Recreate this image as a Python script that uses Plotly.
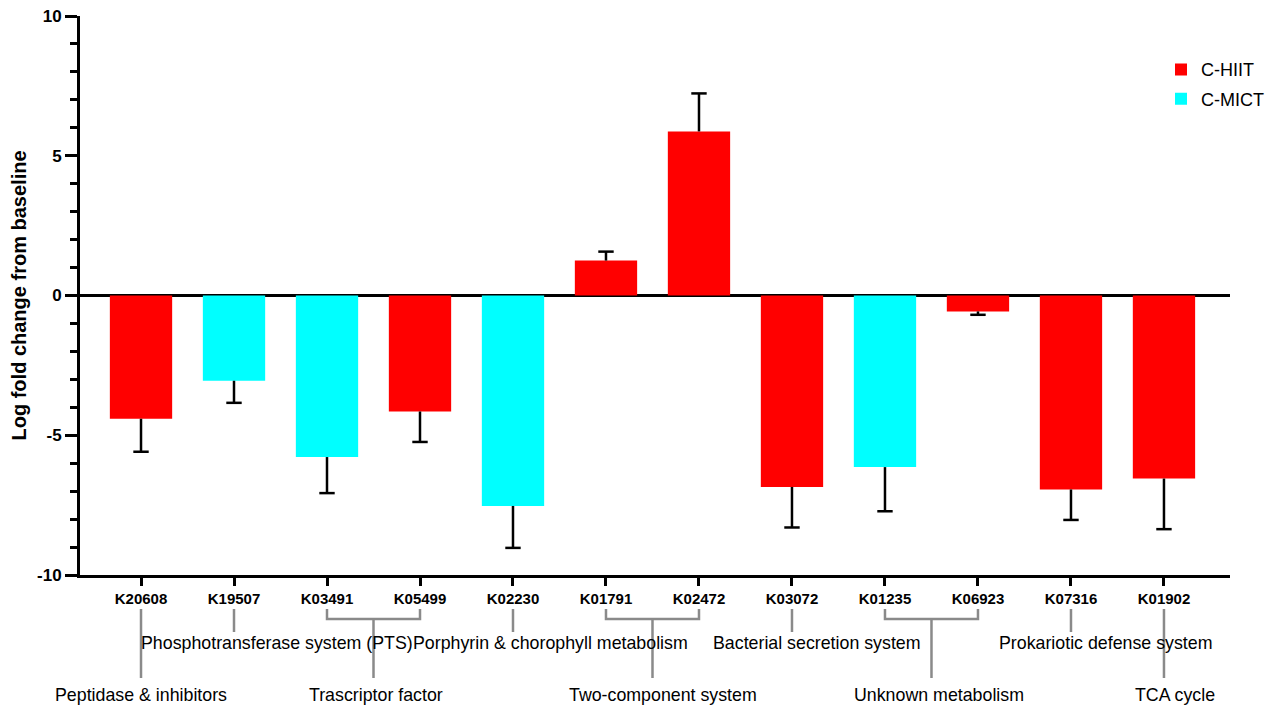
import plotly.graph_objects as go

# ---------------- data ----------------
categories = ["K20608", "K19507", "K03491", "K05499", "K02230", "K01791",
              "K02472", "K03072", "K01235", "K06923", "K07316", "K01902"]

hiit_categories = ["K20608", "K05499", "K01791", "K02472", "K03072", "K06923", "K07316", "K01902"]
hiit_values = [-4.41, -4.15, 1.25, 5.87, -6.85, -0.57, -6.94, -6.55]
hiit_errors = [1.18, 1.09, 0.32, 1.36, 1.45, 0.12, 1.09, 1.81]

mict_categories = ["K19507", "K03491", "K02230", "K01235"]
mict_values = [-3.05, -5.78, -7.53, -6.14]
mict_errors = [0.79, 1.29, 1.50, 1.58]

group_names = ["Peptidase & inhibitors", "Phosphotransferase system (PTS)", "Trascriptor factor",
               "Porphyrin & chorophyll metabolism", "Two-component system",
               "Bacterial secretion system", "Unknown metabolism",
               "Prokariotic defense system", "TCA cycle"]
group_members = [["K20608"], ["K19507"], ["K03491", "K05499"], ["K02230"],
                 ["K01791", "K02472"], ["K03072"], ["K01235", "K06923"], ["K07316"], ["K01902"]]
# ---------------- layout helpers ----------------
group_rows = [2, 1, 2, 1, 2, 1, 2, 1, 2]
group_text_x = [0.0, 1.46, 2.53, 4.40, 5.61, 7.27, 8.58, 10.37, 11.12]

RED = "#FF0000"
CYAN = "#00FFFF"
FONT = "Liberation Sans, Arial, sans-serif"

fig = go.Figure()


def add_series(name, cats, vals, errs, color):
    plus = [e if v >= 0 else 0 for v, e in zip(vals, errs)]
    minus = [e if v < 0 else 0 for v, e in zip(vals, errs)]
    fig.add_trace(go.Bar(
        name=name, x=cats, y=vals, width=0.67,
        marker=dict(color=color, line=dict(width=0)),
        error_y=dict(type="data", symmetric=False, array=plus, arrayminus=minus,
                     color="black", thickness=2.5, width=0),
    ))
    tips = [v + e if v >= 0 else v - e for v, e in zip(vals, errs)]
    fig.add_trace(go.Scatter(
        x=cats, y=tips, mode="markers", showlegend=False, hoverinfo="skip",
        marker=dict(symbol="line-ew", size=11, color="black",
                    line=dict(width=2.5, color="black")),
    ))


add_series("C-HIIT", hiit_categories, hiit_values, hiit_errors, RED)
add_series("C-MICT", mict_categories, mict_values, mict_errors, CYAN)

# group brackets / labels under the axis
PLOT_TOP, PLOT_BOTTOM = 16, 575
PLOT_H = PLOT_BOTTOM - PLOT_TOP


def py(p):
    return (PLOT_BOTTOM - p) / PLOT_H


y_start = py(609)
y_bracket = py(619)
row_end = {1: py(632), 2: py(678)}
row_text = {1: py(643), 2: py(695)}
LINE = dict(color="#8a8a8a", width=2.5)

shapes = []
annotations = []
for name, members, row, tx in zip(group_names, group_members, group_rows, group_text_x):
    idx = [categories.index(m) for m in members]
    if len(idx) == 1:
        shapes.append(dict(type="line", xref="x", yref="paper", x0=idx[0], x1=idx[0],
                           y0=y_start, y1=row_end[row], line=LINE))
    else:
        a, b = idx[0], idx[-1]
        c = (a + b) / 2
        shapes.append(dict(type="path", xref="x", yref="paper",
                           path=f"M {a},{y_start} L {a},{y_bracket} L {b},{y_bracket} L {b},{y_start}",
                           line=LINE))
        shapes.append(dict(type="line", xref="x", yref="paper", x0=c, x1=c,
                           y0=y_bracket, y1=row_end[row], line=LINE))
    annotations.append(dict(text=name, xref="x", yref="paper", x=tx, y=row_text[row],
                            xanchor="center", yanchor="middle", showarrow=False,
                            font=dict(family=FONT, size=17.8, color="black")))

fig.update_layout(
    width=1278, height=705,
    margin=dict(l=80, r=48, t=PLOT_TOP, b=705 - PLOT_BOTTOM, autoexpand=False),
    plot_bgcolor="white", paper_bgcolor="white",
    barmode="overlay",
    showlegend=True,
    legend=dict(x=0.94, y=0.937, xanchor="left", yanchor="top",
                font=dict(family=FONT, size=18, color="black"),
                bgcolor="rgba(0,0,0,0)", tracegroupgap=3),
    shapes=shapes,
    annotations=annotations,
    xaxis=dict(type="category", categoryorder="array", categoryarray=categories,
               range=[-0.656, 11.71], showline=True, linecolor="black", linewidth=3,
               ticks="outside", ticklen=8, tickwidth=3, tickcolor="black",
               tickfont=dict(family=FONT, size=15, color="black", weight="bold"),
               showgrid=False, zeroline=False, fixedrange=True),
    yaxis=dict(range=[-10, 10], tickvals=[-10, -5, 0, 5, 10], ticktext=["-10", "-5", "0", "5", "10"],
               showline=True, linecolor="black", linewidth=3,
               ticks="outside", ticklen=12, tickwidth=3, tickcolor="black",
               minor=dict(dtick=1, ticks="outside", ticklen=7, tickwidth=3, tickcolor="black"),
               tickfont=dict(family=FONT, size=17, color="black", weight="bold"),
               showgrid=False, zeroline=True, zerolinecolor="black", zerolinewidth=3,
               title=dict(text="Log fold change from baseline", standoff=6,
                          font=dict(family=FONT, size=20, color="black", weight="bold")),
               automargin=False),
)
for i, t in enumerate(fig.data):
    if t.showlegend is not False:
        t.legendgroup = f"g{i}"

fig.write_html("out.html")
